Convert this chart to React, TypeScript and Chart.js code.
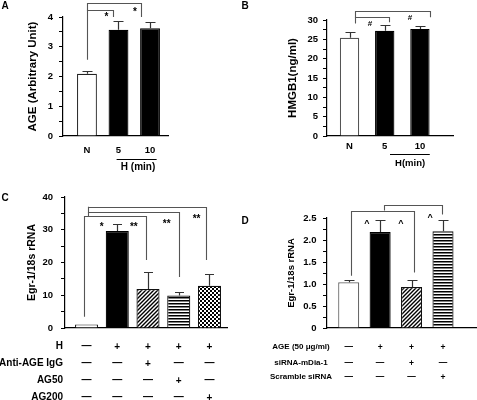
import React, { useEffect, useRef } from "react";
import { Chart, registerables } from "chart.js";

Chart.register(...registerables);

const FONT = '"Liberation Sans", Arial, Helvetica, sans-serif';

// ---------------- DATA ----------------
// Panel A
const aCategories = ["N", "5", "10"];
const aValues = [2.09, 3.57, 3.62];
const aErrors = [0.1, 0.31, 0.2];
const aYTickLabels = ["0", "1", "2", "3", "4"];
const aYTitle = "AGE (Arbitrary Unit)";
const aGroupLabel = "H (min)";
const aMarks = ["*", "*"];

// Panel B
const bCategories = ["N", "5", "10"];
const bValues = [25.4, 27.2, 27.7];
const bErrors = [1.6, 1.5, 0.8];
const bYTickLabels = ["0", "5", "10", "15", "20", "25", "30"];
const bYTitle = "HMGB1(ng/ml)";
const bGroupLabel = "H(min)";
const bMarks = ["#", "#"];

// Panel C
const cValues = [1.1, 29.6, 11.9, 9.9, 12.9];
const cErrors = [0, 2.2, 5.3, 1.0, 3.6];
const cYTickLabels = ["0", "10", "20", "30", "40"];
const cYTitle = "Egr-1/18s rRNA";
const cRowLabels = ["H", "Anti-AGE IgG", "AG50", "AG200"];
const cRowFlags = [
  [0, 1, 1, 1, 1],
  [0, 0, 1, 0, 0],
  [0, 0, 0, 1, 0],
  [0, 0, 0, 0, 1],
];
const cMarks = ["*", "**", "**", "**"];

// Panel D
const dValues = [1.04, 2.18, 0.93, 2.2];
const dErrors = [0.04, 0.28, 0.15, 0.25];
const dYTickLabels = ["0", "0.5", "1.0", "1.5", "2.0", "2.5"];
const dYTitle = "Egr-1/18s rRNA";
const dRowLabels = ["AGE (50 \u03bcg/ml)", "siRNA-mDia-1", "Scramble siRNA"];
const dRowFlags = [
  [0, 1, 1, 1],
  [0, 0, 1, 0],
  [0, 0, 0, 1],
];
const dMarks = ["^", "^", "^"];

// ---------------- HELPERS ----------------
type Bracket = [number, number, number, number, number]; // x1, x2, y, leg1 end, leg2 end (data units)

interface PanelSpec {
  letter: string;
  letterPos: [number, number];
  values: number[];
  errors: number[];
  fills: any[];
  borders: string[];
  area: { left: number; right: number; top: number; bottom: number };
  xRange: [number, number];
  barPct: number;
  yMax: number;
  yStep: number;
  yLabelStep: number;
  yTickLabels: string[];
  yTitle: string;
  yTitleSize: number;
  yAxisW: number;
  yTickPad: number;
  xLabels?: string[];
  xLabelPad?: number;
  capW: number;
  brackets: Bracket[];
  marks: { t: string; x: number; y: number; size: number }[];
  extra?: (ctx: CanvasRenderingContext2D, px: (v: number) => number, py: (v: number) => number, area: any) => void;
}

function drawInkCentered(ctx: CanvasRenderingContext2D, text: string, cx: number, cy: number, font: string) {
  ctx.font = font;
  ctx.textAlign = "center";
  ctx.textBaseline = "alphabetic";
  const m = ctx.measureText(text);
  const y = cy + (m.actualBoundingBoxAscent - m.actualBoundingBoxDescent) / 2;
  ctx.fillText(text, cx, y);
}

function drawCapCentered(
  ctx: CanvasRenderingContext2D,
  text: string,
  x: number,
  cy: number,
  size: number,
  align: CanvasTextAlign
) {
  ctx.font = `bold ${size}px ${FONT}`;
  ctx.textAlign = align;
  ctx.textBaseline = "alphabetic";
  ctx.fillText(text, x, cy + size * 0.69 * 0.5);
}

function makePattern(kind: "diag" | "horiz" | "check"): CanvasPattern {
  const c = document.createElement("canvas");
  const g = c.getContext("2d")!;
  if (kind === "diag") {
    c.width = 4;
    c.height = 4;
    g.fillStyle = "#fff";
    g.fillRect(0, 0, 4, 4);
    g.strokeStyle = "#000";
    g.lineWidth = 1.4;
    g.beginPath();
    g.moveTo(-1, 5);
    g.lineTo(5, -1);
    g.moveTo(-1, 1);
    g.lineTo(1, -1);
    g.moveTo(3, 5);
    g.lineTo(5, 3);
    g.stroke();
  } else if (kind === "horiz") {
    c.width = 4;
    c.height = 3;
    g.fillStyle = "#fff";
    g.fillRect(0, 0, 4, 3);
    g.fillStyle = "#000";
    g.fillRect(0, 0, 4, 1.5);
  } else {
    c.width = 4;
    c.height = 4;
    g.fillStyle = "#fff";
    g.fillRect(0, 0, 4, 4);
    g.fillStyle = "#000";
    g.fillRect(0, 0, 2, 2);
    g.fillRect(2, 2, 2, 2);
  }
  return g.createPattern(c, "repeat")!;
}

function extrasPlugin(p: PanelSpec) {
  return {
    id: "panelExtras",
    afterDatasetsDraw(chart: any) {
      const ctx: CanvasRenderingContext2D = chart.ctx;
      const ys = chart.scales.y;
      const meta = chart.getDatasetMeta(0);
      ctx.save();
      ctx.strokeStyle = "#333";
      ctx.lineWidth = 1.2;
      meta.data.forEach((el: any, i: number) => {
        const e = p.errors[i];
        if (!e) return;
        const x = Math.round(el.x) + 0.5;
        const y0 = ys.getPixelForValue(p.values[i]);
        const y1 = Math.round(ys.getPixelForValue(p.values[i] + e)) + 0.5;
        ctx.beginPath();
        ctx.moveTo(x, y0);
        ctx.lineTo(x, y1);
        ctx.moveTo(x - p.capW / 2, y1);
        ctx.lineTo(x + p.capW / 2, y1);
        ctx.stroke();
      });
      ctx.restore();
    },
    afterDraw(chart: any) {
      const ctx: CanvasRenderingContext2D = chart.ctx;
      const xs = chart.scales.x;
      const ys = chart.scales.y;
      const px = (v: number) => xs.getPixelForValue(v);
      const py = (v: number) => ys.getPixelForValue(v);
      ctx.save();
      // significance brackets
      ctx.strokeStyle = "#555";
      ctx.lineWidth = 1.1;
      p.brackets.forEach(([x1, x2, y, d1, d2]) => {
        const X1 = Math.round(px(x1)) + 0.5;
        const X2 = Math.round(px(x2)) + 0.5;
        const Y = Math.round(py(y)) + 0.5;
        ctx.beginPath();
        ctx.moveTo(X1, py(d1));
        ctx.lineTo(X1, Y);
        ctx.lineTo(X2, Y);
        ctx.lineTo(X2, py(d2));
        ctx.stroke();
      });
      // marks
      ctx.fillStyle = "#000";
      p.marks.forEach((m) => drawInkCentered(ctx, m.t, px(m.x), py(m.y), `bold ${m.size}px ${FONT}`));
      // panel letter
      drawInkCentered(ctx, p.letter, p.letterPos[0], p.letterPos[1], `bold 10px ${FONT}`);
      if (p.extra) p.extra(ctx, px, py, chart.chartArea);
      ctx.restore();
    },
  };
}

function buildConfig(p: PanelSpec): any {
  const W = 477;
  const H = 400;
  const XH = 20;
  const tickFont = { family: FONT, size: 9.5, weight: "bold" as const };
  return {
    type: "bar",
    data: {
      datasets: [
        {
          data: p.values.map((v, i) => ({ x: i, y: v })),
          backgroundColor: p.fills,
          borderColor: p.borders,
          borderWidth: 1.2,
          borderSkipped: "start",
          barPercentage: p.barPct,
          categoryPercentage: 1,
        },
      ],
    },
    options: {
      responsive: false,
      animation: false,
      devicePixelRatio: 1,
      events: [],
      layout: {
        padding: {
          left: p.area.left - p.yAxisW,
          right: W - p.area.right,
          top: p.area.top,
          bottom: H - p.area.bottom - XH,
        },
      },
      plugins: {
        legend: { display: false },
        tooltip: { enabled: false },
        title: { display: false },
      },
      scales: {
        x: {
          type: "linear",
          min: p.xRange[0],
          max: p.xRange[1],
          offset: false,
          afterBuildTicks: (s: any) => {
            s.ticks = p.values.map((_, i) => ({ value: i }));
          },
          afterFit: (s: any) => {
            s.height = XH;
          },
          grid: { display: true, drawOnChartArea: false, drawTicks: false },
          border: { display: true, color: "#000", width: 1.2 },
          ticks: {
            display: !!p.xLabels,
            autoSkip: false,
            maxRotation: 0,
            minRotation: 0,
            padding: p.xLabelPad ?? 0,
            color: "#000",
            font: tickFont,
            callback: (v: number) => (p.xLabels ? p.xLabels[Math.round(v)] ?? "" : ""),
          },
        },
        y: {
          type: "linear",
          min: 0,
          max: p.yMax,
          afterBuildTicks: (s: any) => {
            const n = Math.round(p.yMax / p.yStep);
            const t: any[] = [];
            for (let i = 0; i <= n; i++) t.push({ value: +(i * p.yStep).toFixed(6) });
            s.ticks = t;
          },
          afterFit: (s: any) => {
            s.width = p.yAxisW;
          },
          grid: {
            display: true,
            drawOnChartArea: false,
            drawTicks: true,
            tickLength: 4,
            color: "#000",
            lineWidth: 1,
          },
          border: { display: true, color: "#000", width: 1.2 },
          title: {
            display: true,
            text: p.yTitle,
            color: "#000",
            font: { family: FONT, size: p.yTitleSize, weight: "bold" },
            padding: { top: 0, bottom: 0 },
          },
          ticks: {
            autoSkip: false,
            padding: p.yTickPad,
            color: "#000",
            font: tickFont,
            callback: (v: number) => {
              const k = v / p.yLabelStep;
              const r = Math.round(k);
              return Math.abs(k - r) < 1e-6 ? p.yTickLabels[r] ?? "" : "";
            },
          },
        },
      },
    },
    plugins: [extrasPlugin(p)],
  };
}

// ---------------- PANELS ----------------
function specA(): PanelSpec {
  return {
    letter: "A",
    letterPos: [5, 5],
    values: aValues,
    errors: aErrors,
    fills: ["#fff", "#000", "#000"],
    borders: ["#222", "#000", "#000"],
    area: { left: 63, right: 168, top: 17, bottom: 136 },
    xRange: [-0.76, 2.57],
    barPct: 0.63,
    yMax: 4,
    yStep: 0.5,
    yLabelStep: 1,
    yTickLabels: aYTickLabels,
    yTitle: aYTitle,
    yTitleSize: 11.5,
    yAxisW: 37,
    yTickPad: 6,
    xLabels: aCategories,
    xLabelPad: 9,
    capW: 10,
    brackets: [
      [0, 1.71, 4.47, 2.56, 4.0],
      [0, 0.83, 4.24, 4.24, 4.0],
    ],
    marks: [
      { t: aMarks[0], x: 0.62, y: 4.07, size: 10 },
      { t: aMarks[1], x: 1.52, y: 4.26, size: 10 },
    ],
    extra: (ctx, px, py, area) => {
      ctx.strokeStyle = "#000";
      ctx.lineWidth = 1;
      const y = Math.round(area.bottom + 23) + 0.5;
      ctx.beginPath();
      ctx.moveTo(px(0.94), y);
      ctx.lineTo(px(2.21), y);
      ctx.stroke();
      ctx.fillStyle = "#000";
      drawCapCentered(ctx, aGroupLabel, px(1.62), area.bottom + 31, 10, "center");
    },
  };
}

function specB(): PanelSpec {
  return {
    letter: "B",
    letterPos: [245, 5],
    values: bValues,
    errors: bErrors,
    fills: ["#fff", "#000", "#000"],
    borders: ["#555", "#000", "#000"],
    area: { left: 327, right: 453, top: 20, bottom: 136 },
    xRange: [-0.64, 2.94],
    barPct: 0.55,
    yMax: 30,
    yStep: 2.5,
    yLabelStep: 5,
    yTickLabels: bYTickLabels,
    yTitle: bYTitle,
    yTitleSize: 11.5,
    yAxisW: 41,
    yTickPad: 5,
    xLabels: bCategories,
    xLabelPad: 4.5,
    capW: 10,
    brackets: [
      [0.16, 2.28, 32.2, 29.1, 30.7],
      [0.16, 1.12, 30.9, 30.9, 29.4],
    ],
    marks: [
      { t: bMarks[0], x: 0.58, y: 29.1, size: 8 },
      { t: bMarks[1], x: 1.72, y: 30.7, size: 8 },
    ],
    extra: (ctx, px, py, area) => {
      ctx.strokeStyle = "#000";
      ctx.lineWidth = 1;
      const y = Math.round(area.bottom + 18) + 0.5;
      ctx.beginPath();
      ctx.moveTo(px(1.15), y);
      ctx.lineTo(px(2.28), y);
      ctx.stroke();
      ctx.fillStyle = "#000";
      drawCapCentered(ctx, bGroupLabel, px(1.72), area.bottom + 27, 9.5, "center");
    },
  };
}

function specC(): PanelSpec {
  const diag = makePattern("diag");
  const horiz = makePattern("horiz");
  const check = makePattern("check");
  return {
    letter: "C",
    letterPos: [5, 197],
    values: cValues,
    errors: cErrors,
    fills: ["#fff", "#000", diag, horiz, check],
    borders: ["#222", "#000", "#111", "#111", "#111"],
    area: { left: 65, right: 227, top: 197, bottom: 328 },
    xRange: [-0.7, 4.57],
    barPct: 0.75,
    yMax: 40,
    yStep: 5,
    yLabelStep: 10,
    yTickLabels: cYTickLabels,
    yTitle: cYTitle,
    yTitleSize: 10.5,
    yAxisW: 39,
    yTickPad: 8,
    capW: 9,
    brackets: [
      [-0.08, 1.93, 34.1, 3.4, 20.8],
      [0.05, 0.05, 37.0, 34.1, 34.1],
      [0.05, 3.02, 35.4, 35.4, 15.6],
      [0.05, 3.9, 37.0, 37.0, 20.8],
    ],
    marks: [
      { t: cMarks[0], x: 0.49, y: 31.6, size: 10 },
      { t: cMarks[1], x: 1.54, y: 31.6, size: 10 },
      { t: cMarks[2], x: 2.61, y: 32.6, size: 10 },
      { t: cMarks[3], x: 3.58, y: 33.9, size: 10 },
    ],
    extra: (ctx, px, py, area) => {
      ctx.fillStyle = "#000";
      const rowOffsets = [17.7, 34.7, 51.7, 68.7];
      cRowLabels.forEach((label, r) => {
        const cy = area.bottom + rowOffsets[r];
        drawCapCentered(ctx, label, 63, cy, 10, "right");
        cRowFlags[r].forEach((f, i) => {
          drawInkCentered(ctx, f ? "+" : "\u2014", px(i), cy, `bold 10px ${FONT}`);
        });
      });
    },
  };
}

function specD(): PanelSpec {
  const diag = makePattern("diag");
  const horiz = makePattern("horiz");
  return {
    letter: "D",
    letterPos: [245, 220],
    values: dValues,
    errors: dErrors,
    fills: ["#fff", "#000", diag, horiz],
    borders: ["#666", "#000", "#111", "#111"],
    area: { left: 327, right: 476, top: 218, bottom: 328 },
    xRange: [-0.69, 4.05],
    barPct: 0.67,
    yMax: 2.5,
    yStep: 0.25,
    yLabelStep: 0.5,
    yTickLabels: dYTickLabels,
    yTitle: dYTitle,
    yTitleSize: 9.5,
    yAxisW: 41,
    yTickPad: 6.5,
    capW: 10,
    brackets: [
      [0.07, 2.08, 2.67, 1.19, 1.26],
      [1.13, 1.13, 2.79, 2.67, 2.67],
      [1.13, 2.96, 2.79, 2.79, 2.58],
    ],
    marks: [
      { t: dMarks[0], x: 0.58, y: 2.42, size: 9 },
      { t: dMarks[1], x: 1.66, y: 2.42, size: 9 },
      { t: dMarks[2], x: 2.59, y: 2.55, size: 9 },
    ],
    extra: (ctx, px, py, area) => {
      ctx.fillStyle = "#000";
      const rowOffsets = [18.4, 34, 48.4];
      dRowLabels.forEach((label, r) => {
        const cy = area.bottom + rowOffsets[r];
        drawCapCentered(ctx, label, 301, cy, 8, "center");
        dRowFlags[r].forEach((f, i) => {
          drawInkCentered(ctx, f ? "+" : "\u2014", px(i), cy, `bold 8.5px ${FONT}`);
        });
      });
    },
  };
}

function Panel({ make }: { make: () => PanelSpec }) {
  const ref = useRef<HTMLCanvasElement>(null);
  useEffect(() => {
    const chart = new Chart(ref.current as HTMLCanvasElement, buildConfig(make()));
    return () => chart.destroy();
  }, []);
  return (
    <canvas
      ref={ref}
      width={477}
      height={400}
      style={{ position: "absolute", left: 0, top: 0, width: 477, height: 400 }}
    />
  );
}

export default function App() {
  return (
    <div
      style={{
        position: "fixed",
        left: 0,
        top: 0,
        width: 477,
        height: 400,
        background: "#fff",
        overflow: "hidden",
      }}
    >
      <Panel make={specA} />
      <Panel make={specB} />
      <Panel make={specC} />
      <Panel make={specD} />
    </div>
  );
}
